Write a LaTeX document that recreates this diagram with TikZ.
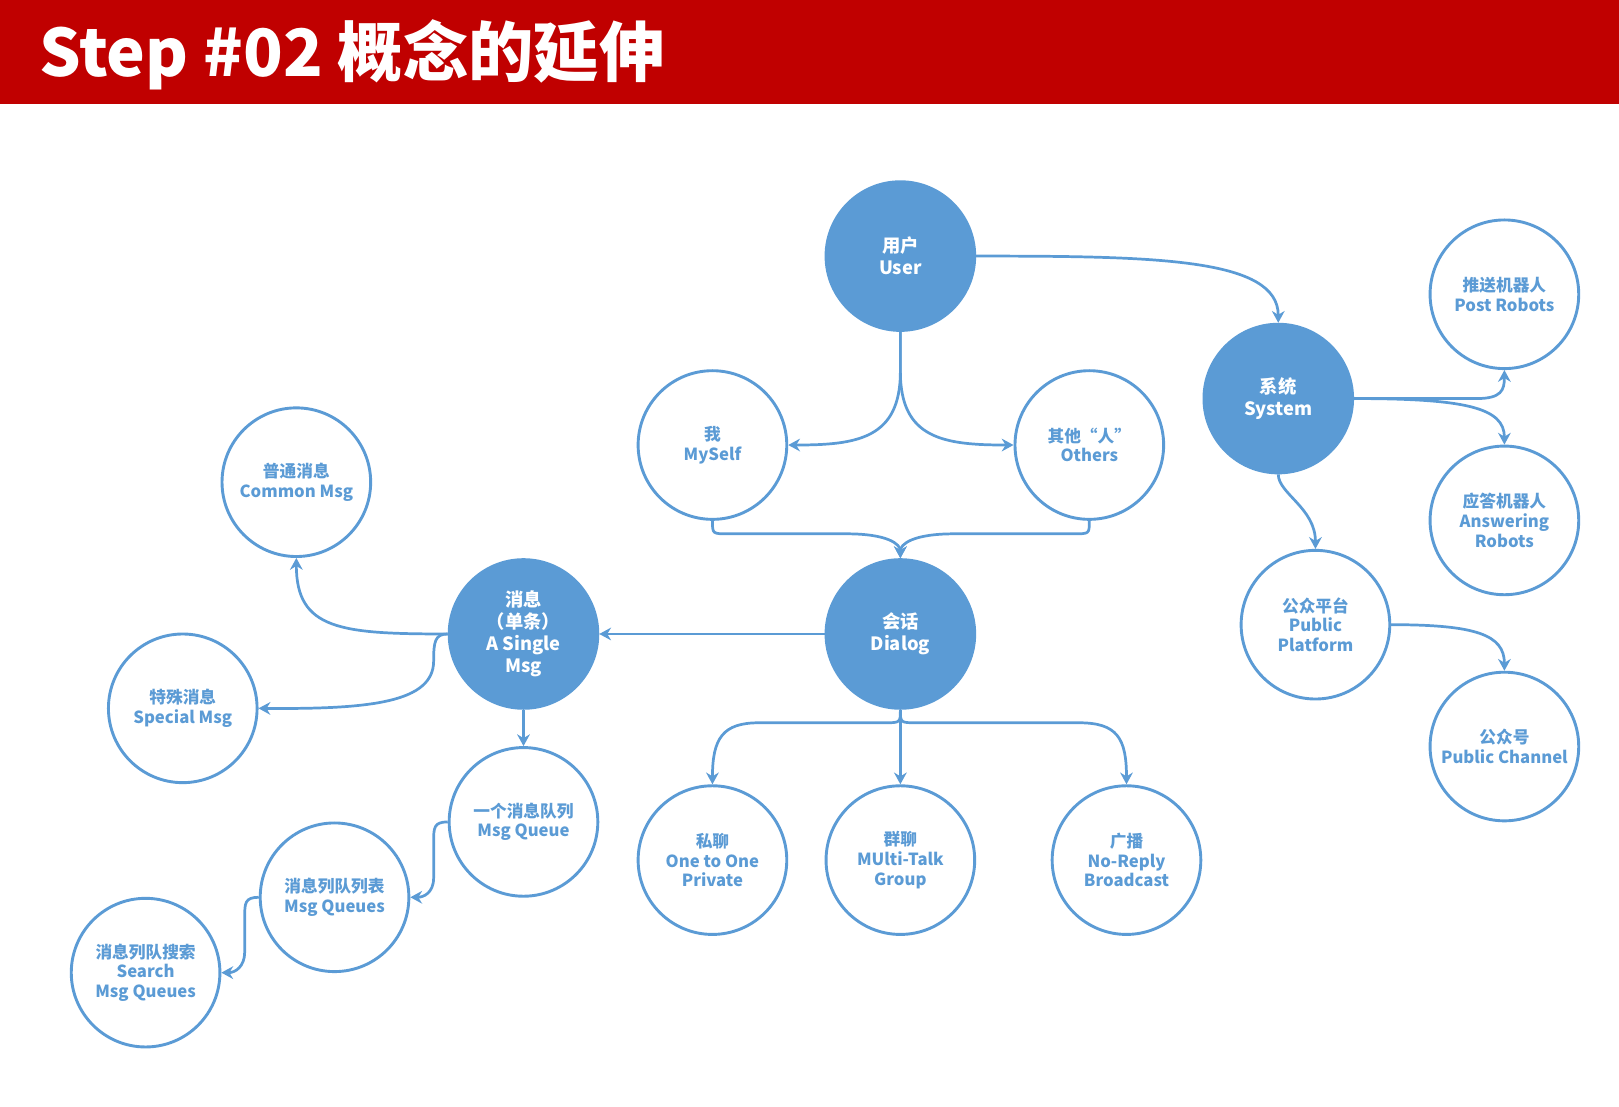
\documentclass[tikz,border=0pt]{standalone}
\usepackage{fontspec}
\setmainfont{Noto Sans CJK SC}
\usepackage{tikz}
\usetikzlibrary{arrows.meta}
\definecolor{nodeblue}{HTML}{5B9BD5}
\definecolor{titlered}{HTML}{C00000}

\begin{document}
\begin{tikzpicture}[x=0.02cm, y=-0.02cm,
	>={Stealth[length=6.5pt,width=7pt]},
	ball/.style={circle, draw=nodeblue, fill=nodeblue, line width=1.6pt, minimum size=2.88cm, inner sep=0pt, align=center, text=white, font=\fontsize{10.1}{12.2}\selectfont\bfseries},
	ring/.style={circle, draw=nodeblue, fill=white, line width=1.6pt, minimum size=2.88cm, inner sep=0pt, align=center, text=nodeblue, font=\fontsize{9.2}{10.8}\selectfont\bfseries},
	link/.style={->, draw=nodeblue, line width=1.5pt}]
	\useasboundingbox (0,0) rectangle (1568,1072);
	\fill[titlered] (0,0) rectangle (1568,101);
	\node[anchor=west, inner sep=0pt, text=white, font=\fontsize{36}{40}\selectfont\bfseries] (title) at (38,53) {Step \#02 概念的延伸};

	\node[ball] (user) at (872,248) {用户\\User};
	\node[ball] (dialog) at (872,614) {会话\\Dialog};
	\node[ball] (system) at (1238,386) {系统\\System};
	\node[ball] (single) at (507,614) {消息\\（单条）\\A Single\\Msg};

	\foreach \nm/\px/\py/\txt in {myself/690/431/{我\\MySelf}, others/1055/431/{其他“人”\\Others},
		post/1457/285/{推送机器人\\Post Robots}, answer/1457/504/{应答机器人\\Answering\\Robots},
		platform/1274/605/{公众平台\\Public\\Platform}, channel/1457/723/{公众号\\Public Channel},
		common/287/467/{普通消息\\Common Msg}, special/177/686/{特殊消息\\Special Msg},
		queue/507/796/{一个消息队列\\Msg Queue}, queues/324/869/{消息列队列表\\Msg Queues},
		search/141/942/{消息列队搜索\\Search\\Msg Queues},
		oneone/690/833/{私聊\\One to One\\Private}, multi/872/833/{群聊\\MUlti-Talk\\Group},
		broad/1091/833/{广播\\No-Reply\\Broadcast}}{
	   \node[ring] (\nm) at (\px,\py) {\txt};
	}

	\draw[link] (user.east) .. controls (1120,248) and (1238,250) .. (system.north);
	\draw[link] (user.south) -- (872,360) .. controls (872,425) and (830,431) .. (myself.east);
	\draw[link] (user.south) -- (872,360) .. controls (872,425) and (914,431) .. (others.west);
	\draw[link] (myself.south) .. controls (690,517) .. (705,517) -- (820,517) .. controls (860,517) and (872,527) .. (dialog.north);
	\draw[link] (others.south) .. controls (1055,517) .. (1040,517) -- (924,517) .. controls (884,517) and (872,527) .. (dialog.north);

	\draw[link] (dialog.west) -- (single.east);
	\draw[link] (dialog.south) .. controls (872,700) .. (856,700) -- (735,700) .. controls (700,700) and (690,715) .. (oneone.north);
	\draw[link] (dialog.south) -- (multi.north);
	\draw[link] (dialog.south) .. controls (872,700) .. (888,700) -- (1045,700) .. controls (1082,700) and (1091,715) .. (broad.north);

	\draw[link] (system.east) -- (1430,386) .. controls (1454,386) and (1457,378) .. (post.south);
	\draw[link] (system.east) .. controls (1420,386) and (1457,395) .. (answer.north);
	\draw[link] (system.south) .. controls (1238,478) and (1274,492) .. (platform.north);
	\draw[link] (platform.east) .. controls (1430,605) and (1457,615) .. (channel.north);

	\draw[link] (single.west) .. controls (330,614) and (287,610) .. (common.south);
	\draw[link] (single.west) .. controls (421,614) and (420,622) .. (420,640) .. controls (420,680) and (360,687) .. (special.east);
	\draw[link] (single.south) -- (queue.north);
	\draw[link] (queue.west) .. controls (420,796) and (420,802) .. (420,815) -- (420,850) .. controls (420,865) and (410,869) .. (queues.east);
	\draw[link] (queues.west) .. controls (237,869) and (237,875) .. (237,888) -- (237,922) .. controls (237,936) and (228,942) .. (search.east);
\end{tikzpicture}
\end{document}
